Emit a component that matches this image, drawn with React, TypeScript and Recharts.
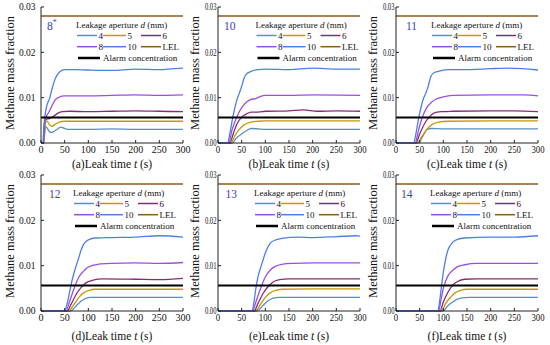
import React from "react";
import { LineChart, Line, XAxis, YAxis, ReferenceLine } from "recharts";

type Pt = [number, number];

// series names, panel tags and ticks
const apertures = ["4", "5", "6", "8", "10"];
const panelTags = ["8", "10", "11", "12", "13", "14"];
const panelLetters = ["a", "b", "c", "d", "e", "f"];
const xTicks = [0, 50, 100, 150, 200, 250, 300];
const yTicks = [0, 0.01, 0.02, 0.03];
const legendRows = [["4", "5", "6"], ["8", "10", "LEL"]];
const LEL = 0.028;
const ALARM = 0.0056;

// (a) 8*
const a4: Pt[] = [[0, 0], [6, 0], [8, 0.0025], [10, 0.0036], [13, 0.0033], [17, 0.0026], [22, 0.0023], [28, 0.0026], [35, 0.0031], [42, 0.0035], [50, 0.0032], [60, 0.003], [100, 0.003], [150, 0.0031], [200, 0.003], [250, 0.003], [300, 0.003]];
const a5: Pt[] = [[0, 0], [6, 0], [8, 0.003], [11, 0.0049], [14, 0.0047], [18, 0.004], [23, 0.0037], [30, 0.0041], [38, 0.0046], [50, 0.0048], [100, 0.0048], [200, 0.0048], [300, 0.0048]];
const a6: Pt[] = [[0, 0], [5, 0], [7, 0.0035], [10, 0.0052], [14, 0.0053], [20, 0.0055], [28, 0.006], [36, 0.0066], [45, 0.0069], [60, 0.007], [100, 0.0069], [150, 0.007], [200, 0.0071], [250, 0.007], [300, 0.0069]];
const a8: Pt[] = [[0, 0], [5, 0], [7, 0.004], [10, 0.0055], [15, 0.0065], [20, 0.0075], [25, 0.0086], [30, 0.0095], [38, 0.0101], [50, 0.0104], [100, 0.0104], [150, 0.0105], [200, 0.0106], [250, 0.0105], [300, 0.0106]];
const a10: Pt[] = [[0, 0], [4, 0], [6, 0.0035], [9, 0.0065], [13, 0.0085], [18, 0.0098], [23, 0.0118], [28, 0.0136], [33, 0.0148], [40, 0.0157], [50, 0.0162], [70, 0.0162], [100, 0.0161], [150, 0.016], [200, 0.0163], [250, 0.0162], [280, 0.0164], [300, 0.0165]];

// (b) 10
const b4: Pt[] = [[0, 0], [30, 0], [38, 0.001], [50, 0.002], [60, 0.0027], [70, 0.0032], [85, 0.0031], [100, 0.003], [200, 0.003], [300, 0.003]];
const b5: Pt[] = [[0, 0], [27, 0], [35, 0.0015], [45, 0.003], [55, 0.004], [70, 0.0046], [85, 0.0048], [100, 0.0049], [200, 0.0049], [300, 0.0049]];
const b6: Pt[] = [[0, 0], [25, 0], [32, 0.002], [40, 0.0042], [50, 0.0057], [60, 0.0064], [70, 0.0068], [85, 0.0068], [100, 0.007], [150, 0.0071], [180, 0.0073], [210, 0.007], [250, 0.0071], [300, 0.007]];
const b8: Pt[] = [[0, 0], [22, 0], [30, 0.003], [40, 0.0058], [50, 0.0078], [60, 0.009], [70, 0.0096], [80, 0.0098], [90, 0.0103], [100, 0.0105], [150, 0.0105], [200, 0.0106], [300, 0.0105]];
const b10: Pt[] = [[0, 0], [20, 0], [25, 0.002], [30, 0.005], [35, 0.0075], [40, 0.0095], [45, 0.011], [50, 0.0125], [55, 0.0143], [60, 0.0152], [70, 0.0158], [85, 0.0162], [100, 0.0163], [150, 0.0162], [200, 0.0165], [250, 0.0163], [300, 0.0163]];

// (c) 11
const c4: Pt[] = [[0, 0], [48, 0], [55, 0.0012], [60, 0.0021], [66, 0.003], [75, 0.0032], [100, 0.0031], [200, 0.0031], [300, 0.0031]];
const c5: Pt[] = [[0, 0], [45, 0], [55, 0.0015], [65, 0.003], [75, 0.004], [90, 0.0046], [110, 0.0048], [200, 0.0049], [300, 0.0049]];
const c6: Pt[] = [[0, 0], [42, 0], [50, 0.002], [60, 0.0042], [70, 0.0057], [80, 0.0066], [95, 0.0069], [120, 0.007], [200, 0.0071], [250, 0.0071], [300, 0.0069]];
const c8: Pt[] = [[0, 0], [40, 0], [48, 0.003], [55, 0.0055], [65, 0.0078], [75, 0.009], [85, 0.0097], [100, 0.0102], [120, 0.0105], [200, 0.0106], [270, 0.0106], [300, 0.0104]];
const c10: Pt[] = [[0, 0], [37, 0], [42, 0.002], [47, 0.005], [52, 0.0075], [58, 0.0098], [63, 0.011], [68, 0.0125], [73, 0.0145], [80, 0.0155], [90, 0.0158], [110, 0.0162], [150, 0.0162], [200, 0.0164], [240, 0.0165], [300, 0.0161]];

// (d) 12
const d4: Pt[] = [[0, 0], [62, 0], [75, 0.0012], [85, 0.0022], [95, 0.0028], [105, 0.003], [200, 0.003], [300, 0.003]];
const d5: Pt[] = [[0, 0], [58, 0], [70, 0.0015], [80, 0.003], [90, 0.004], [100, 0.0045], [115, 0.0048], [200, 0.0048], [300, 0.0048]];
const d6: Pt[] = [[0, 0], [55, 0], [65, 0.0018], [75, 0.0038], [85, 0.0052], [95, 0.0062], [110, 0.0068], [130, 0.0071], [200, 0.007], [250, 0.0069], [300, 0.0072]];
const d8: Pt[] = [[0, 0], [53, 0], [60, 0.002], [70, 0.005], [80, 0.0075], [90, 0.0088], [100, 0.0097], [120, 0.0103], [150, 0.0105], [200, 0.0106], [250, 0.0105], [300, 0.0107]];
const d10: Pt[] = [[0, 0], [50, 0], [55, 0.0015], [60, 0.004], [65, 0.0065], [70, 0.0085], [75, 0.0102], [80, 0.0118], [85, 0.0135], [90, 0.0147], [100, 0.0157], [115, 0.0161], [150, 0.0162], [200, 0.0163], [250, 0.0166], [300, 0.0163]];

// (e) 13
const e4: Pt[] = [[0, 0], [82, 0], [95, 0.0012], [105, 0.0022], [115, 0.0028], [130, 0.003], [200, 0.003], [300, 0.003]];
const e5: Pt[] = [[0, 0], [79, 0], [90, 0.0015], [100, 0.003], [110, 0.004], [120, 0.0045], [135, 0.0048], [200, 0.0049], [300, 0.0049]];
const e6: Pt[] = [[0, 0], [76, 0], [85, 0.0018], [95, 0.0038], [105, 0.0053], [115, 0.0063], [130, 0.0069], [150, 0.0071], [200, 0.0071], [300, 0.0071]];
const e8: Pt[] = [[0, 0], [73, 0], [80, 0.002], [90, 0.005], [100, 0.0075], [110, 0.009], [120, 0.0098], [135, 0.0103], [160, 0.0105], [200, 0.0106], [300, 0.0106]];
const e10: Pt[] = [[0, 0], [72, 0], [76, 0.002], [80, 0.005], [85, 0.0078], [90, 0.0095], [95, 0.0112], [100, 0.0128], [105, 0.014], [110, 0.0149], [120, 0.0156], [135, 0.016], [170, 0.0163], [200, 0.0162], [250, 0.0164], [290, 0.0166], [300, 0.0165]];

// (f) 14
const f4: Pt[] = [[0, 0], [99, 0], [110, 0.0012], [120, 0.002], [130, 0.0026], [140, 0.0029], [155, 0.003], [200, 0.003], [300, 0.003]];
const f5: Pt[] = [[0, 0], [96, 0], [105, 0.0017], [115, 0.003], [125, 0.004], [135, 0.0045], [150, 0.0048], [200, 0.0048], [300, 0.0048]];
const f6: Pt[] = [[0, 0], [93, 0], [100, 0.002], [110, 0.0042], [120, 0.0057], [130, 0.0065], [145, 0.007], [170, 0.0071], [300, 0.0071]];
const f8: Pt[] = [[0, 0], [90, 0], [95, 0.0025], [100, 0.005], [110, 0.0078], [120, 0.009], [130, 0.0098], [145, 0.0102], [170, 0.0105], [300, 0.0105]];
const f10: Pt[] = [[0, 0], [88, 0], [92, 0.002], [95, 0.0045], [100, 0.0085], [105, 0.0115], [110, 0.0135], [115, 0.0145], [120, 0.0152], [130, 0.0158], [145, 0.0161], [200, 0.0163], [250, 0.0163], [300, 0.0166]];

const series: Pt[][][] = [
  [a4, a5, a6, a8, a10],
  [b4, b5, b6, b8, b10],
  [c4, c5, c6, c8, c10],
  [d4, d5, d6, d8, d10],
  [e4, e5, e6, e8, e10],
  [f4, f5, f6, f8, f10],
];

const colors: Record<string, string> = {
  "4": "#5a8ec6",
  "5": "#c49a0a",
  "6": "#8a2a76",
  "8": "#9a4ee4",
  "10": "#4d7fe6",
  LEL: "#8b5a1e",
};

const FONT = "'Liberation Serif', 'Times New Roman', Times, serif";
const INK = "#111";
const serif = { fontFamily: FONT };

// layout
const plotLefts = [41, 218, 396];
const plotTops = [7, 175];
const PW = 142;
const PH = 136;
const YW = 41;
const MT = 5;
const MR = 12;
const XH = 34;
const legendDx = [35, 37.5, 35, 32, 36, 34];
const tagDx = [6, 6, 10, 8, 7.5, 5];

const toObj = (arr: Pt[]) => arr.map(([t, v]) => ({ t, v }));

function XTick(props: any) {
  const { x, y, payload, sx } = props;
  return (
    <g transform={`translate(${x},${y}) scale(${sx},1)`}>
      <text x={0} y={0} dy="0.71em" textAnchor="middle" fontSize={10} style={serif} fill={INK}>
        {payload.value}
      </text>
    </g>
  );
}

function YTick(props: any) {
  const { x, y, payload, sx } = props;
  return (
    <g transform={`translate(${x},${y}) scale(${sx},1)`}>
      <text x={0} y={0} dy="0.355em" textAnchor="end" fontSize={9.5} style={serif} fill={INK}>
        {Number(payload.value).toFixed(2)}
      </text>
    </g>
  );
}

function Panel({ idx }: { idx: number }) {
  const col = idx % 3;
  const row = Math.floor(idx / 3);
  const first = col === 0;
  const W = YW + PW + MR;
  const H = MT + PH + XH;
  const left = plotLefts[col] - YW;
  const top = plotTops[row] - MT;
  const lx = YW + legendDx[idx];
  const ly = MT + 17.5;
  const rowY = [MT + 28.5, MT + 39.7];
  const colX = [1, 27, 65];
  const colLen = [20, 23, 20];

  return (
    <div style={{ position: "absolute", left, top, width: W, height: H }}>
      <LineChart width={W} height={H} margin={{ top: MT, right: MR, bottom: 0, left: 0 }}>
        <XAxis
          dataKey="t"
          type="number"
          domain={[0, 300]}
          ticks={xTicks}
          interval={0}
          height={XH}
          stroke="#222"
          tickSize={-3}
          tickMargin={5.5}
          tick={(p: any) => <XTick {...p} sx={first ? 1 : 0.87} />}
        />
        <XAxis xAxisId="top" orientation="top" type="number" domain={[0, 300]} height={0} tick={false} tickLine={false} stroke="#222" />
        <YAxis
          type="number"
          domain={[0, 0.03]}
          ticks={yTicks}
          interval={0}
          width={YW}
          stroke="#222"
          tickSize={-3}
          tickMargin={first ? 8.5 : 4.5}
          tick={(p: any) => <YTick {...p} sx={first ? 1 : 0.7} />}
        />
        <YAxis yAxisId="right" orientation="right" type="number" domain={[0, 0.03]} width={0} tick={false} tickLine={false} stroke="#222" />
        {series[idx].map((pts, i) => (
          <Line
            key={apertures[i]}
            data={toObj(pts)}
            dataKey="v"
            type="monotone"
            stroke={colors[apertures[i]]}
            strokeWidth={1.3}
            dot={false}
            isAnimationActive={false}
          />
        ))}
        <ReferenceLine y={LEL} stroke={colors.LEL} strokeWidth={1.5} />
        <ReferenceLine y={ALARM} stroke="#000" strokeWidth={2} />
      </LineChart>
      <svg width={W} height={H} style={{ position: "absolute", left: 0, top: 0, pointerEvents: "none", ...serif }}>
        <text
          transform={`translate(${first ? 10 : 18},${MT + PH / 2 - 2}) rotate(-90)`}
          textAnchor="middle"
          dominantBaseline="central"
          fontSize={12.5}
          style={serif}
          fill={INK}
        >
          Methane mass fraction
        </text>
        <text x={YW + PW / 2} y={MT + PH + (row === 0 ? 25 : 29)} textAnchor="middle" fontSize={11.5} style={serif} fill={INK}>
          ({panelLetters[idx]})Leak time <tspan fontStyle="italic">t</tspan> (s)
        </text>
        <text x={YW + tagDx[idx]} y={MT + 23} fontSize={11.5} style={serif} fill="#3a3acf">
          {panelTags[idx]}
          {idx === 0 && (
            <tspan dy={-5} fontSize={8}>
              *
            </tspan>
          )}
        </text>
        <text x={lx} y={ly + 3} fontSize={9} style={serif} fill={INK}>
          Leakage aperture <tspan fontStyle="italic">d</tspan> (mm)
        </text>
        {legendRows.map((r, ri) =>
          r.map((name, ci) => (
            <g key={name}>
              <line x1={lx + colX[ci]} x2={lx + colX[ci] + colLen[ci]} y1={rowY[ri]} y2={rowY[ri]} stroke={colors[name]} strokeWidth={1.5} />
              <text x={lx + colX[ci] + colLen[ci] + 1.5} y={rowY[ri] + 3} fontSize={9} style={serif} fill={INK}>
                {name}
              </text>
            </g>
          ))
        )}
        <line x1={lx + 2} x2={lx + 24} y1={MT + 51} y2={MT + 51} stroke="#000" strokeWidth={2.5} />
        <text x={lx + 27} y={MT + 54} fontSize={9} style={serif} fill={INK}>
          Alarm concentration
        </text>
      </svg>
    </div>
  );
}

export default function App() {
  return (
    <div style={{ position: "absolute", left: 0, top: 0, width: 550, height: 345, background: "#fff", overflow: "hidden", ...serif }}>
      {panelTags.map((_, i) => (
        <Panel key={i} idx={i} />
      ))}
    </div>
  );
}
